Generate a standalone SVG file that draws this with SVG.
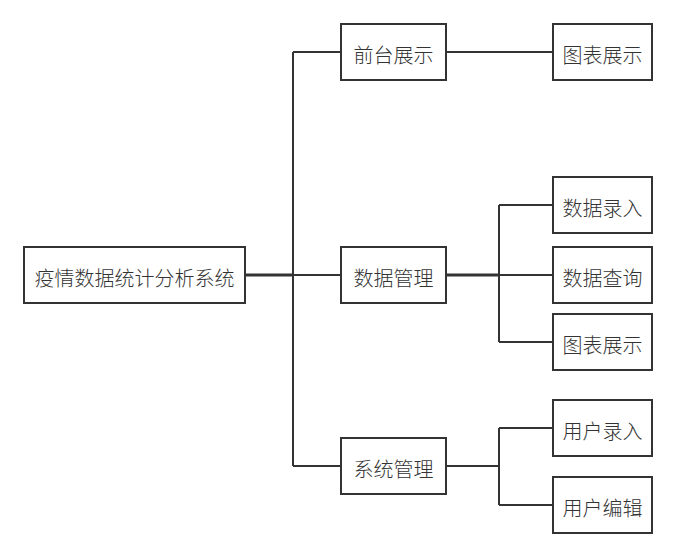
<svg xmlns="http://www.w3.org/2000/svg" width="678" height="558" viewBox="0 0 678 558">
<style>
.box{fill:#fff;stroke:#333;stroke-width:2}
.t{font-family:"Noto Sans CJK SC","Microsoft YaHei",sans-serif;font-size:20px;font-weight:300;fill:#333;text-anchor:middle;dominant-baseline:central}
.e{fill:none;stroke:#333;stroke-width:2}
.e2{fill:none;stroke:#333;stroke-width:3}
</style>
<rect width="678" height="558" fill="#fff"/>
<g id="connectors">
<path class="e2" d="M245 275H293"/>
<path class="e" d="M293 52V466"/>
<path class="e" d="M293 52H341"/>
<path class="e" d="M293 275H341"/>
<path class="e" d="M293 466H341"/>
<path class="e" d="M446 52H553"/>
<path class="e2" d="M446 275H499"/>
<path class="e" d="M499 205V342"/>
<path class="e" d="M499 205H553"/>
<path class="e" d="M499 275H553"/>
<path class="e" d="M499 342H553"/>
<path class="e" d="M446 466H499"/>
<path class="e" d="M499 428V505"/>
<path class="e" d="M499 428H553"/>
<path class="e" d="M499 505H553"/>
</g>
<g id="root"><rect class="box" x="24" y="247" width="221" height="56"/><text class="t" x="134.5" y="277">疫情数据统计分析系统</text></g>
<g id="qtzs"><rect class="box" x="341" y="24" width="105" height="56"/><text class="t" x="393.5" y="54">前台展示</text></g>
<g id="tbzs1"><rect class="box" x="553" y="24" width="99" height="56"/><text class="t" x="602.5" y="54">图表展示</text></g>
<g id="sjgl"><rect class="box" x="341" y="247" width="105" height="56"/><text class="t" x="393.5" y="277">数据管理</text></g>
<g id="sjlr"><rect class="box" x="553" y="177" width="99" height="56"/><text class="t" x="602.5" y="207">数据录入</text></g>
<g id="sjcx"><rect class="box" x="553" y="247" width="99" height="56"/><text class="t" x="602.5" y="277">数据查询</text></g>
<g id="tbzs2"><rect class="box" x="553" y="314" width="99" height="56"/><text class="t" x="602.5" y="344">图表展示</text></g>
<g id="xtgl"><rect class="box" x="341" y="438" width="105" height="56"/><text class="t" x="393.5" y="468">系统管理</text></g>
<g id="yhlr"><rect class="box" x="553" y="400" width="99" height="56"/><text class="t" x="602.5" y="430">用户录入</text></g>
<g id="yhbj"><rect class="box" x="553" y="477" width="99" height="56"/><text class="t" x="602.5" y="507">用户编辑</text></g>
</svg>
